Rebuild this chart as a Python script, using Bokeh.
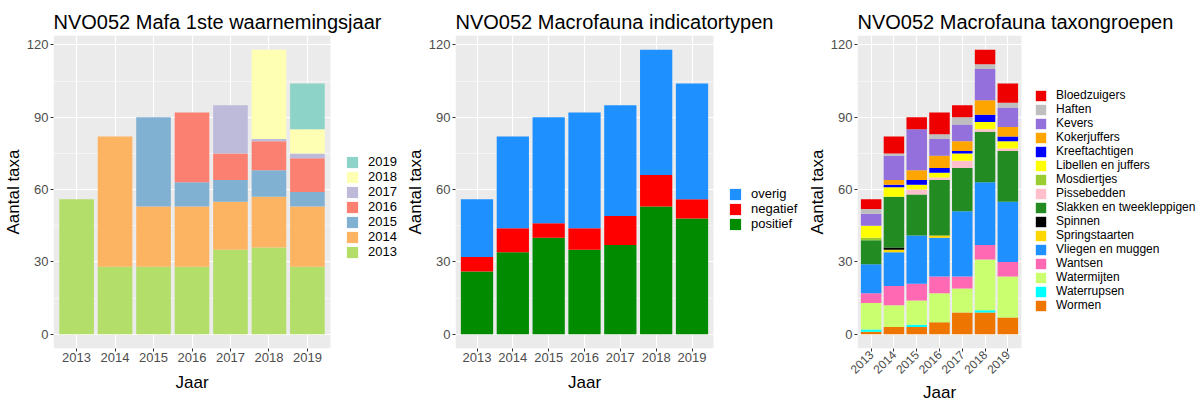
import math
from bokeh.plotting import figure
from bokeh.layouts import row
from bokeh.models import (Range1d, FixedTicker, Legend, LegendItem, ColumnDataSource,
                          BoxAnnotation, Title)
from bokeh.embed import file_html
from bokeh.resources import INLINE

# ---------------- data ----------------
years = [2013, 2014, 2015, 2016, 2017, 2018, 2019]
year_labels = ["2013", "2014", "2015", "2016", "2017", "2018", "2019"]

# Panel 1: first observation year (stack bottom -> top)
first_year_names = ["2013", "2014", "2015", "2016", "2017", "2018", "2019"]
first_2013 = [56, 28, 28, 28, 35, 36, 28]
first_2014 = [0, 54, 25, 25, 20, 21, 25]
first_2015 = [0, 0, 37, 10, 9, 11, 6]
first_2016 = [0, 0, 0, 29, 11, 12, 14]
first_2017 = [0, 0, 0, 0, 20, 1, 2]
first_2018 = [0, 0, 0, 0, 0, 37, 10]
first_2019 = [0, 0, 0, 0, 0, 0, 19]
first_colors = ["#B3DE69", "#FDB462", "#80B1D3", "#FB8072", "#BEBADA", "#FFFFB3", "#8DD3C7"]

# Panel 2: indicator types (bottom -> top)
indicator_names = ["positief", "negatief", "overig"]
positief = [26, 34, 40, 35, 37, 53, 48]
negatief = [6, 10, 6, 9, 12, 13, 8]
overig = [24, 38, 44, 48, 46, 52, 48]
indicator_colors = ["#008B00", "#FF0000", "#1E90FF"]

# Panel 3: taxon groups (bottom -> top)
taxon_names = ["Wormen", "Waterrupsen", "Watermijten", "Wantsen", "Vliegen en muggen",
               "Springstaarten", "Spinnen", "Slakken en tweekleppigen", "Pissebedden",
               "Mosdiertjes", "Libellen en juffers", "Kreeftachtigen", "Kokerjuffers",
               "Kevers", "Haften", "Bloedzuigers"]
wormen = [1, 3, 3, 5, 9, 9, 7]
waterrupsen = [1, 0, 1, 0, 0, 1, 0]
watermijten = [11, 9, 10, 12, 10, 21, 17]
wantsen = [4, 8, 7, 7, 5, 6, 6]
vliegen = [12, 14, 20, 16, 27, 26, 25]
springstaarten = [0, 1, 0, 1, 0, 0, 0]
spinnen = [0, 1, 0, 0, 0, 0, 0]
slakken = [10, 21, 17, 23, 18, 21, 21]
pissebedden = [0, 0, 2, 1, 3, 1, 1]
mosdiertjes = [1, 0, 0, 0, 0, 0, 0]
libellen = [5, 4, 2, 2, 3, 3, 3]
kreeftachtigen = [0, 1, 2, 2, 1, 3, 2]
kokerjuffers = [0, 2, 4, 5, 4, 6, 4]
kevers = [5, 10, 17, 7, 7, 13, 8]
haften = [2, 1, 0, 2, 3, 2, 2]
bloedzuigers = [4, 7, 5, 9, 5, 6, 8]
taxon_colors = ["#EE7600", "#00FFFF", "#CAFF70", "#FF69B4", "#1E90FF",
                "#FFD700", "#000000", "#228B22", "#FFC0CB",
                "#9ACD32", "#FFFF00", "#0000FF", "#FFA500",
                "#9370DB", "#BEBEBE", "#EE0000"]

y_ticks = [0, 30, 60, 90, 120]
y_minor = [15, 45, 75, 105]

FONT = "Liberation Sans"
H = 402
TOP = 35
BOTTOM = 54
X0, X1 = 2012.4, 2019.6
Y0, Y1 = -5.9, 123.9
JAAR_HALF_WIDTH = 16.5


def make_panel(title, width, left, plot_w, jaar_standoff, tick_font):
    frame_w = width - left
    x_end = X0 + (X1 - X0) * frame_w / plot_w
    p = figure(width=width, height=H, output_backend="svg", toolbar_location=None,
               x_range=Range1d(X0, x_end), y_range=Range1d(Y0, Y1),
               min_border_left=left, min_border_right=0,
               min_border_top=TOP, min_border_bottom=BOTTOM)
    p.title.text = title
    p.title.text_font = FONT
    p.title.text_font_size = "20px"
    p.title.text_font_style = "normal"
    p.title.text_color = "#000000"
    p.title.align = "left"
    p.title.offset = 0
    p.title.standoff = 5
    p.background_fill_color = "white"
    p.border_fill_color = "white"
    p.outline_line_color = None
    # grey plotting panel (only over the data area)
    p.add_layout(BoxAnnotation(left=X0, right=X1, fill_color="#EBEBEB", fill_alpha=1.0,
                               line_color=None, level="image"))
    p.xaxis.ticker = FixedTicker(ticks=years)
    p.xaxis.major_label_overrides = {y: l for y, l in zip(years, year_labels)}
    p.yaxis.ticker = FixedTicker(ticks=y_ticks, minor_ticks=y_minor)
    for ax in (p.xaxis, p.yaxis):
        ax.axis_line_color = None
        ax.major_tick_line_color = "#333333"
        ax.major_tick_out = 3
        ax.major_tick_in = 0
        ax.minor_tick_line_color = None
        ax.major_label_text_font = FONT
        ax.major_label_text_font_size = "13px"
        ax.major_label_text_color = "#4D4D4D"
        ax.major_label_standoff = 1
        ax.axis_label_text_font = FONT
        ax.axis_label_text_font_size = "17px"
        ax.axis_label_text_font_style = "normal"
        ax.axis_label_text_color = "#000000"
        ax.axis_label_standoff = 1
    p.xaxis.major_label_text_font_size = tick_font
    p.yaxis.axis_label = "Aantal taxa"
    # x-axis title centred under the data panel (not under the legend area)
    jaar = Title(text="Jaar", align="left", offset=plot_w / 2.0 - JAAR_HALF_WIDTH,
                 text_font=FONT, text_font_size="17px", text_font_style="normal",
                 text_color="#000000", standoff=jaar_standoff)
    p.add_layout(jaar, "below")
    p.xgrid.grid_line_color = "white"
    p.xgrid.grid_line_width = 1.1
    p.ygrid.grid_line_color = "white"
    p.ygrid.grid_line_width = 1.1
    p.ygrid.minor_grid_line_color = "white"
    p.ygrid.minor_grid_line_width = 0.5
    return p


def add_stack(p, names, cols, colors, font_size, glyph, spacing, loc):
    data = {"x": years}
    for n, c in zip(names, cols):
        data[n] = c
    src = ColumnDataSource(data)
    rs = p.vbar_stack(names, x="x", width=0.9, color=colors, line_color=None, source=src)
    items = [LegendItem(label=n, renderers=[r]) for n, r in zip(names, rs)][::-1]
    leg = Legend(items=items, location=loc, orientation="vertical",
                 border_line_color=None, background_fill_alpha=0,
                 label_text_font=FONT, label_text_font_size=font_size,
                 label_text_color="#000000",
                 glyph_width=glyph, glyph_height=glyph, label_height=glyph,
                 spacing=spacing, padding=0, margin=0, label_standoff=9)
    p.add_layout(leg, "center")


# ---- panel 1 ----
p1 = make_panel("NVO052 Mafa 1ste waarnemingsjaar", 402, 53, 277, 13, "13px")
cols1 = [first_2013, first_2014, first_2015, first_2016, first_2017, first_2018, first_2019]
add_stack(p1, first_year_names, cols1, first_colors, "13px", 14, 0, (292, 89))

# ---- panel 2 ----
p2 = make_panel("NVO052 Macrofauna indicatortypen", 400, 53, 258, 13, "13px")
add_stack(p2, indicator_names, [positief, negatief, overig], indicator_colors,
          "13px", 14, 0, (273, 117))

# ---- panel 3 ----
p3 = make_panel("NVO052 Macrofauna taxongroepen", 398, 55, 164, 0, "12px")
p3.xaxis.major_label_orientation = math.pi / 4
cols3 = [wormen, waterrupsen, watermijten, wantsen, vliegen, springstaarten, spinnen,
         slakken, pissebedden, mosdiertjes, libellen, kreeftachtigen, kokerjuffers,
         kevers, haften, bloedzuigers]
add_stack(p3, taxon_names, cols3, taxon_colors, "12px", 13, 0, (177, 36))

layout = row(p1, p2, p3)
open("out.html", "w").write(file_html(layout, INLINE))
